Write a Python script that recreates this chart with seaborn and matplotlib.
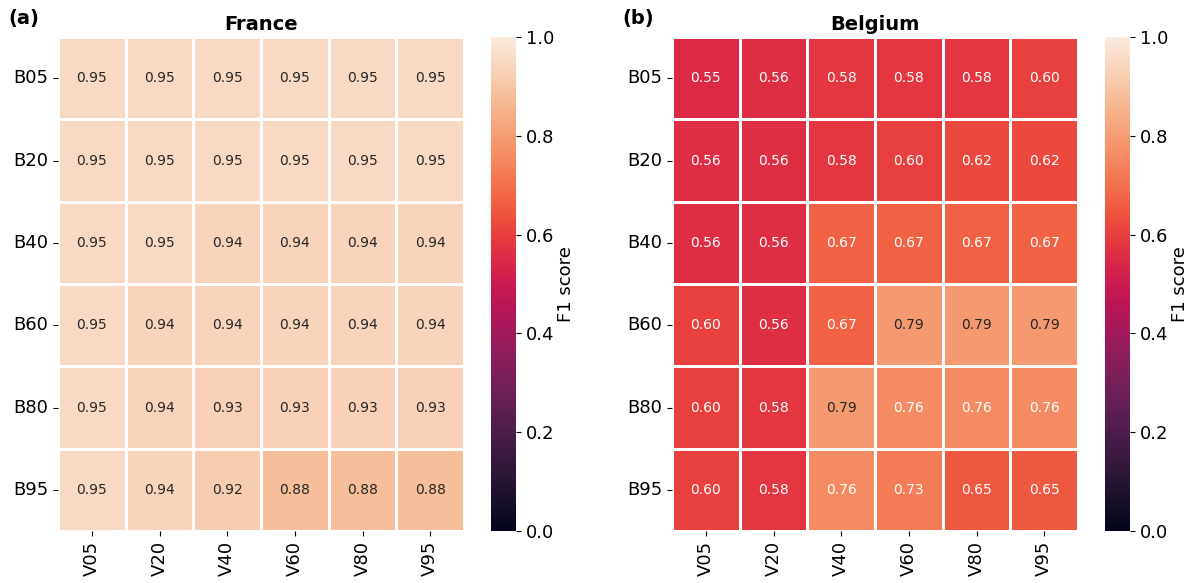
import matplotlib
matplotlib.use("Agg")
import matplotlib.pyplot as plt
import numpy as np
import pandas as pd
import seaborn as sns

# Band / vegetation threshold labels
rows = ["B05", "B20", "B40", "B60", "B80", "B95"]
cols = ["V05", "V20", "V40", "V60", "V80", "V95"]

# F1 scores per country (rows x cols)
france = [
    [0.95, 0.95, 0.95, 0.95, 0.95, 0.95],
    [0.95, 0.95, 0.95, 0.95, 0.95, 0.95],
    [0.95, 0.95, 0.94, 0.94, 0.94, 0.94],
    [0.95, 0.94, 0.94, 0.94, 0.94, 0.94],
    [0.95, 0.94, 0.93, 0.93, 0.93, 0.93],
    [0.95, 0.94, 0.92, 0.88, 0.88, 0.88],
]
belgium = [
    [0.55, 0.56, 0.58, 0.58, 0.58, 0.60],
    [0.56, 0.56, 0.58, 0.60, 0.62, 0.62],
    [0.56, 0.56, 0.67, 0.67, 0.67, 0.67],
    [0.60, 0.56, 0.67, 0.79, 0.79, 0.79],
    [0.60, 0.58, 0.79, 0.76, 0.76, 0.76],
    [0.60, 0.58, 0.76, 0.73, 0.65, 0.65],
]

fig = plt.figure(figsize=(11.99, 5.83), dpi=100)

panels = [
    ("France", "(a)", france, [0.0484, 0.0892, 0.3386, 0.847], [0.4095, 0.0892, 0.0209, 0.847]),
    ("Belgium", "(b)", belgium, [0.5605, 0.0892, 0.3386, 0.847], [0.9216, 0.0892, 0.0209, 0.847]),
]

for title, tag, values, pos, cpos in panels:
    ax = fig.add_axes(pos)
    cax = fig.add_axes(cpos)
    df = pd.DataFrame(values, index=rows, columns=cols)
    sns.heatmap(
        df, ax=ax, cbar_ax=cax, cmap="rocket", vmin=0, vmax=1,
        annot=True, fmt=".2f", annot_kws={"fontsize": 10},
        linewidths=1, linecolor="white",
        cbar_kws={"label": "F1 score"},
    )
    ax.set_title(title, fontsize=14, fontweight="bold", pad=5)
    ax.tick_params(axis="both", labelsize=13)
    ax.set_yticklabels(rows, rotation=0)
    ax.set_xticklabels(cols, rotation=90)
    ax.text(-0.123, 1.038, tag, transform=ax.transAxes, fontsize=14,
            fontweight="bold", va="center", ha="left")
    cax.tick_params(labelsize=13)
    cax.set_ylabel("F1 score", fontsize=13, labelpad=2)
    cax.set_yticks(np.arange(0, 1.01, 0.2))

fig.savefig("out.png", dpi=100)
